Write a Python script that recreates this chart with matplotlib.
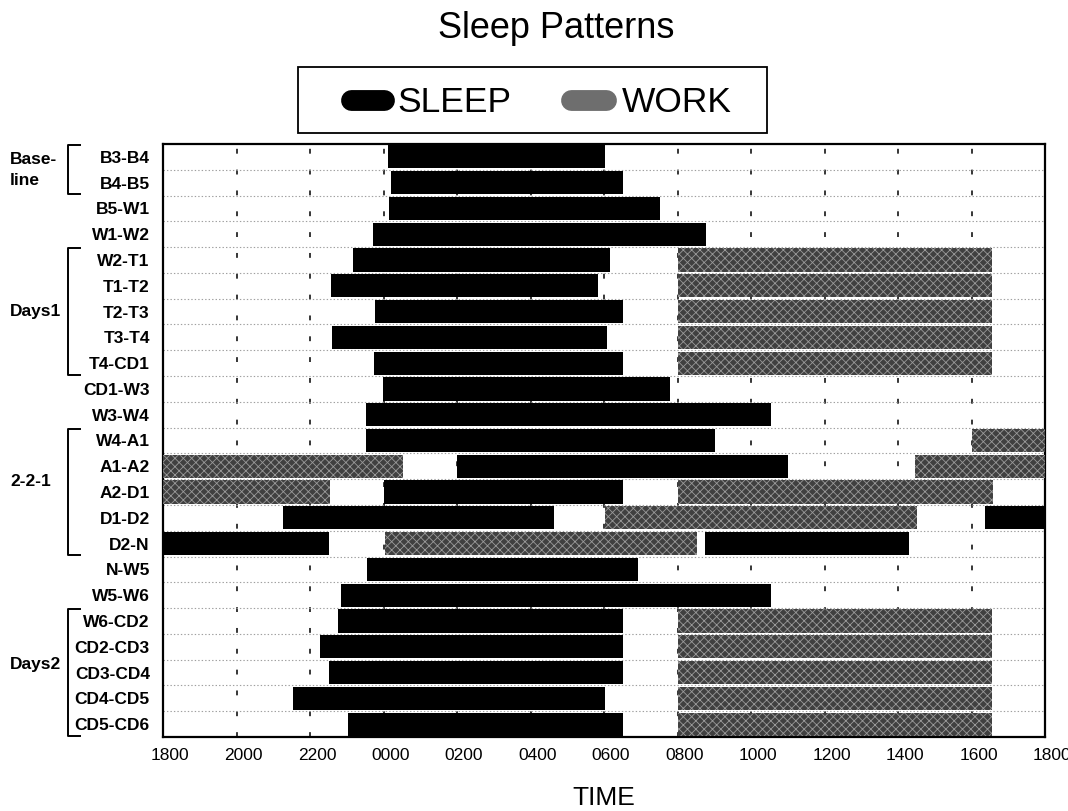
import matplotlib
matplotlib.use("Agg")
import matplotlib.pyplot as plt
from matplotlib.transforms import blended_transform_factory, ScaledTranslation
from matplotlib.patches import Rectangle
from matplotlib.lines import Line2D

plt.rcParams["font.family"] = ["Liberation Sans", "DejaVu Sans"]
plt.rcParams["lines.scale_dashes"] = False
plt.rcParams["hatch.linewidth"] = 0.6

# ---------------- data (hours after 18:00) ----------------
rows = ["B3-B4", "B4-B5", "B5-W1", "W1-W2", "W2-T1", "T1-T2", "T2-T3", "T3-T4",
        "T4-CD1", "CD1-W3", "W3-W4", "W4-A1", "A1-A2", "A2-D1", "D1-D2", "D2-N",
        "N-W5", "W5-W6", "W6-CD2", "CD2-CD3", "CD3-CD4", "CD4-CD5", "CD5-CD6"]

sleep_row = [0, 1, 2, 3, 4, 5, 6, 7, 8, 9, 10, 11, 12, 13, 14, 14, 15, 15,
             16, 17, 18, 19, 20, 21, 22]
sleep_start = [6.12, 6.20, 6.15, 5.71, 5.16, 4.57, 5.77, 4.59, 5.74, 5.98, 5.52,
               5.52, 8.01, 6.01, 3.26, 22.37, 0.00, 14.75, 5.54, 4.84, 4.77,
               4.27, 4.53, 3.55, 5.04]
sleep_end = [12.03, 12.53, 13.52, 14.77, 12.16, 11.85, 12.51, 12.09, 12.51, 13.80,
             16.54, 15.02, 17.00, 12.51, 10.64, 24.00, 4.53, 20.31, 12.93, 16.55,
             12.53, 12.53, 12.53, 12.03, 12.53]

work_row = [4, 5, 6, 7, 8, 11, 12, 12, 13, 13, 14, 15, 18, 19, 20, 21, 22]
work_start = [14.0, 14.0, 14.0, 14.0, 14.0, 22.02, 0.00, 20.47, 0.00, 14.0,
              12.03, 6.04, 14.0, 14.0, 14.0, 14.0, 14.0]
work_end = [22.55, 22.55, 22.55, 22.55, 22.55, 24.00, 6.52, 24.00, 4.54, 22.58,
            20.52, 14.52, 22.56, 22.56, 22.56, 22.56, 22.56]

tick_hours = [0, 2, 4, 6, 8, 10, 12, 14, 16, 18, 20, 22, 24]
tick_labels = ["1800", "2000", "2200", "0000", "0200", "0400", "0600", "0800",
               "1000", "1200", "1400", "1600", "1800"]

group_names = ["Base-\nline", "Days1", "2-2-1", "Days2"]
group_first = [0, 4, 11, 18]
group_last = [1, 8, 15, 22]
group_label_y = [0.5, 6.0, 12.6, 19.7]

# ---------------- figure ----------------
W, H = 1068, 811
fig = plt.figure(figsize=(W / 100, H / 100), dpi=100)
ax = fig.add_axes([163 / W, 1 - 737 / H, (1045 - 163) / W, (737 - 144) / H])

n = len(rows)
ax.set_xlim(0, 24)
ax.set_ylim(n - 0.5, -0.5)

SLEEP_C = "#000000"
WORK_C = "#404040"

ax.barh(sleep_row, [e - s for s, e in zip(sleep_start, sleep_end)], left=sleep_start,
        height=0.9, color=SLEEP_C, zorder=3)
ax.barh(work_row, [e - s for s, e in zip(work_start, work_end)], left=work_start,
        height=0.9, facecolor=WORK_C, edgecolor="#9a9a9a", linewidth=0,
        hatch="xxxx", zorder=3)

# grid
for t in tick_hours[1:-1]:
    ax.axvline(t, color="black", lw=1.1, ls=(0, (3.5, 11.5)), zorder=1)
for i in range(n - 1):
    ax.axhline(i + 0.5, color="#a0a0a0", lw=0.8, ls=(0, (1, 1.5)), zorder=1)

ax.set_xticks(tick_hours)
ax.set_xticklabels(tick_labels, fontsize=12.5)
ax.tick_params(axis="x", length=0, pad=8)
shift = ScaledTranslation(7 / 100, 0, fig.dpi_scale_trans)
for tk in ax.xaxis.get_major_ticks():
    tk.label1.set_transform(tk.label1.get_transform() + shift)

ax.set_yticks(range(n))
ax.set_yticklabels(rows, fontsize=12.5, fontweight="bold")
ax.tick_params(axis="y", length=0, pad=9.5)

for sp in ax.spines.values():
    sp.set_linewidth(1.6)

ax.set_xlabel("TIME", fontsize=19)
ax.xaxis.label.set_va("baseline")
ax.xaxis.set_label_coords(0.5, (737 - 805) / (737 - 144))

# group labels and brackets
bt = blended_transform_factory(fig.transFigure, ax.transData)
for name, a, b, yl in zip(group_names, group_first, group_last, group_label_y):
    ax.text(10 / W, yl, name, transform=bt, ha="left", va="center",
            fontsize=12.5, fontweight="bold", linespacing=1.5)
    xv, xt = 68 / W, 80 / W
    y0, y1 = a - 0.45, b + 0.45
    ax.add_line(Line2D([xt, xv, xv, xt], [y0, y0, y1, y1], transform=bt,
                       color="black", lw=1.4, clip_on=False))

# title
fig.text(556 / W, 1 - 38.5 / H, "Sleep Patterns", ha="center", va="baseline",
         fontsize=26)

# legend (manual box)
fig.add_artist(Rectangle((298 / W, 1 - 133 / H), (767 - 298) / W, (133 - 67) / H,
                         transform=fig.transFigure, fill=False, lw=1.3,
                         edgecolor="black"))
ly = 1 - 99.5 / H
fig.add_artist(Line2D([351 / W, 384 / W], [ly, ly], transform=fig.transFigure,
                      lw=15, color=SLEEP_C, solid_capstyle="round"))
fig.add_artist(Line2D([571 / W, 606 / W], [ly, ly], transform=fig.transFigure,
                      lw=15, color="#6e6e6e", solid_capstyle="round"))
fig.text(397 / W, 1 - 111.5 / H, "SLEEP", ha="left", va="baseline", fontsize=25.5)
fig.text(622 / W, 1 - 111.5 / H, "WORK", ha="left", va="baseline", fontsize=25.5)

fig.savefig("out.png", dpi=100)
